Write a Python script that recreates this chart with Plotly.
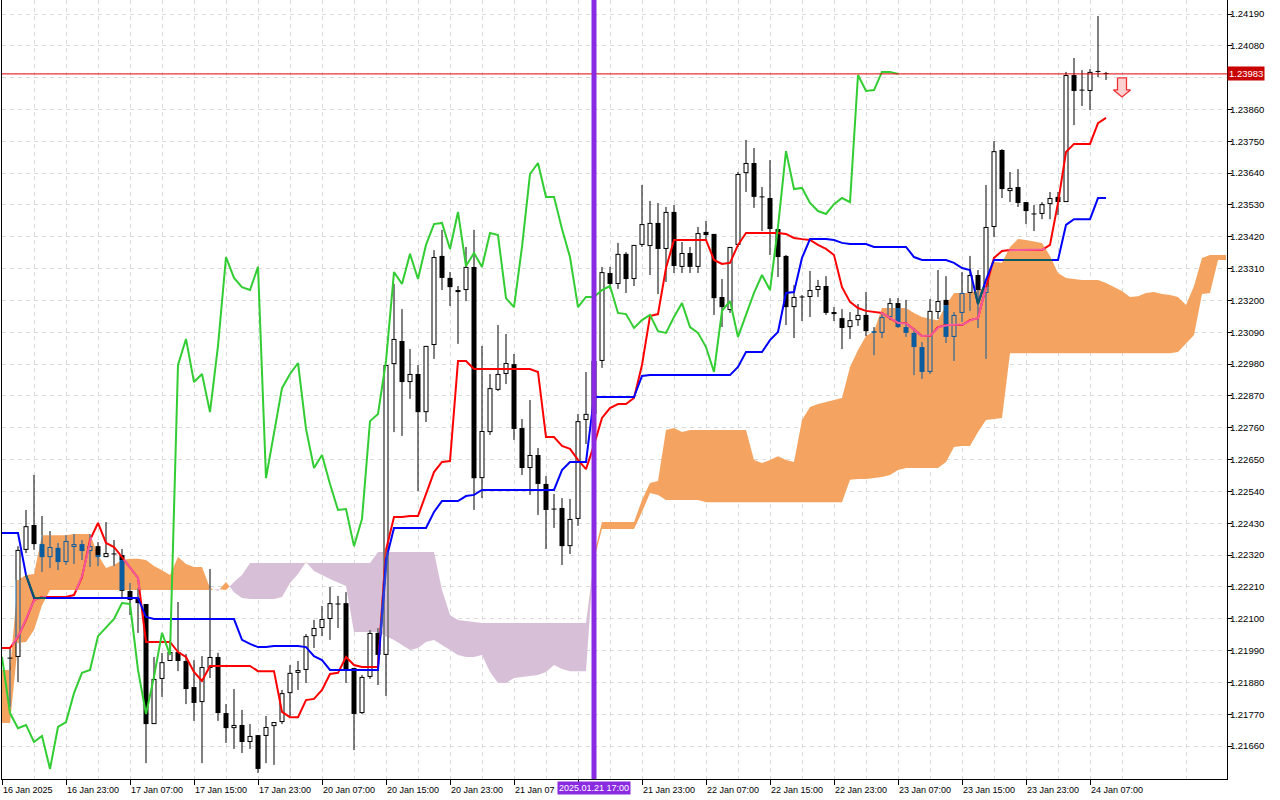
import numpy as np
import plotly.graph_objects as go

# H1 candles, bar 0 = 16 Jan 2025 16:00
opens = [
    1.21964, 1.21968, 1.22338, 1.22424, 1.22358, 1.22313, 1.22345, 1.22296, 1.22348, 1.22358,
    1.22334, 1.22351, 1.22313, 1.22324, 1.22320, 1.22196, 1.22172, 1.22151, 1.21736, 1.21892,
    1.21954, 1.21985, 1.21954, 1.21864, 1.21812, 1.21930, 1.21968, 1.21774, 1.21722, 1.21733,
    1.21674, 1.21698, 1.21695, 1.21729, 1.21743, 1.21843, 1.21913, 1.21923, 1.22040, 1.22068,
    1.22099, 1.22151, 1.22154, 1.21930, 1.21774, 1.21899, 1.22051, 1.21975, 1.22980, 1.23060,
    1.22918, 1.22946, 1.22814, 1.23046, 1.23354, 1.23278, 1.23229, 1.23236, 1.23316, 1.22586,
    1.22745, 1.22891, 1.22946, 1.22980, 1.22759, 1.22621, 1.22666, 1.22566, 1.22479, 1.22483,
    1.22351, 1.22445, 1.22787, 1.22808, 1.22991, 1.23295, 1.23257, 1.23361, 1.23274, 1.23392,
    1.23388, 1.23468, 1.23378, 1.23506, 1.23316, 1.23364, 1.23316, 1.23437, 1.23430, 1.23212,
    1.23167, 1.23392, 1.23640, 1.23675, 1.23558, 1.23554, 1.23447, 1.23354, 1.23177, 1.23212,
    1.23212, 1.23236, 1.23250, 1.23160, 1.23139, 1.23108, 1.23132, 1.23150, 1.23094, 1.23088,
    1.23143, 1.23191, 1.23108, 1.23088, 1.23039, 1.22953, 1.23160, 1.23202, 1.23074, 1.23157,
    1.23226, 1.23288, 1.23226, 1.23454, 1.23720, 1.23578, 1.23592, 1.23540, 1.23499, 1.23499,
    1.23533, 1.23558, 1.23540, 1.23979, 1.23927, 1.23924, 1.23993, 1.23986]
highs = [
    1.22002, 1.22351, 1.22476, 1.22597, 1.22455, 1.22403, 1.22362, 1.22389, 1.22393, 1.22372,
    1.22393, 1.22365, 1.22434, 1.22372, 1.22341, 1.22224, 1.22206, 1.22151, 1.21968, 1.21982,
    1.22027, 1.22158, 1.21978, 1.21957, 1.21971, 1.22272, 1.21982, 1.21805, 1.21857, 1.21785,
    1.21736, 1.21698, 1.21764, 1.21743, 1.21854, 1.21940, 1.21954, 1.22047, 1.22096, 1.22144,
    1.22210, 1.22179, 1.22192, 1.21930, 1.21906, 1.22061, 1.22068, 1.22977, 1.23257, 1.23170,
    1.23032, 1.22977, 1.23043, 1.23374, 1.23444, 1.23298, 1.23250, 1.23385, 1.23444, 1.23043,
    1.22946, 1.23115, 1.23084, 1.23015, 1.22790, 1.22856, 1.22690, 1.22593, 1.22531, 1.22517,
    1.22514, 1.22808, 1.22953, 1.23115, 1.23316, 1.23316, 1.23399, 1.23367, 1.23392, 1.23599,
    1.23544, 1.23537, 1.23523, 1.23530, 1.23402, 1.23385, 1.23454, 1.23475, 1.23430, 1.23274,
    1.23385, 1.23644, 1.23755, 1.23727, 1.23592, 1.23685, 1.23447, 1.23357, 1.23253, 1.23219,
    1.23302, 1.23271, 1.23284, 1.23177, 1.23170, 1.23160, 1.23188, 1.23229, 1.23108, 1.23157,
    1.23208, 1.23208, 1.23202, 1.23105, 1.23056, 1.23205, 1.23305, 1.23284, 1.23160, 1.23298,
    1.23354, 1.23305, 1.23599, 1.23751, 1.23723, 1.23644, 1.23654, 1.23540, 1.23530, 1.23540,
    1.23575, 1.23575, 1.23990, 1.24038, 1.23996, 1.24000, 1.24183, 1.23990]
lows = [
    1.21795, 1.21881, 1.22327, 1.22338, 1.22262, 1.22275, 1.22268, 1.22286, 1.22289, 1.22303,
    1.22279, 1.22282, 1.22313, 1.22282, 1.22175, 1.22113, 1.22051, 1.21601, 1.21736, 1.21830,
    1.21954, 1.21919, 1.21805, 1.21747, 1.21601, 1.21895, 1.21747, 1.21671, 1.21650, 1.21636,
    1.21650, 1.21567, 1.21601, 1.21595, 1.21736, 1.21764, 1.21854, 1.21878, 1.21999, 1.22040,
    1.22027, 1.22068, 1.21878, 1.21646, 1.21771, 1.21892, 1.21871, 1.21833, 1.22745, 1.22732,
    1.22860, 1.22541, 1.22780, 1.22998, 1.23236, 1.23181, 1.23050, 1.23198, 1.22476, 1.22517,
    1.22735, 1.22887, 1.22911, 1.22718, 1.22597, 1.22528, 1.22459, 1.22341, 1.22414, 1.22286,
    1.22324, 1.22421, 1.22704, 1.22794, 1.22967, 1.23240, 1.23240, 1.23226, 1.23250, 1.23385,
    1.23288, 1.23222, 1.23264, 1.23295, 1.23295, 1.23295, 1.23295, 1.23409, 1.23150, 1.23108,
    1.23157, 1.23385, 1.23575, 1.23520, 1.23440, 1.23357, 1.23281, 1.23115, 1.23070, 1.23129,
    1.23143, 1.23212, 1.23150, 1.23129, 1.23032, 1.23067, 1.23112, 1.23077, 1.23011, 1.23070,
    1.23132, 1.23105, 1.23074, 1.22942, 1.22929, 1.22946, 1.23136, 1.23053, 1.22991, 1.23126,
    1.23164, 1.23105, 1.22998, 1.23419, 1.23554, 1.23540, 1.23523, 1.23464, 1.23440, 1.23481,
    1.23481, 1.23495, 1.23540, 1.23806, 1.23872, 1.23858, 1.23972, 1.23962]
closes = [
    1.21964, 1.22338, 1.22420, 1.22358, 1.22313, 1.22348, 1.22296, 1.22369, 1.22358, 1.22334,
    1.22351, 1.22313, 1.22327, 1.22324, 1.22196, 1.22165, 1.22154, 1.21736, 1.21892, 1.21950,
    1.21985, 1.21954, 1.21857, 1.21809, 1.21933, 1.21968, 1.21774, 1.21722, 1.21733, 1.21674,
    1.21695, 1.21581, 1.21726, 1.21743, 1.21843, 1.21913, 1.21923, 1.22040, 1.22068, 1.22099,
    1.22154, 1.22151, 1.21923, 1.21771, 1.21899, 1.22051, 1.21975, 1.22977, 1.23067, 1.22918,
    1.22946, 1.22814, 1.23043, 1.23350, 1.23278, 1.23246, 1.23236, 1.23316, 1.22586, 1.22749,
    1.22897, 1.22946, 1.22984, 1.22756, 1.22621, 1.22666, 1.22566, 1.22476, 1.22479, 1.22351,
    1.22445, 1.22783, 1.22808, 1.22991, 1.23298, 1.23257, 1.23361, 1.23274, 1.23392, 1.23464,
    1.23468, 1.23378, 1.23506, 1.23319, 1.23364, 1.23316, 1.23433, 1.23426, 1.23208, 1.23177,
    1.23385, 1.23637, 1.23675, 1.23558, 1.23558, 1.23447, 1.23350, 1.23177, 1.23212, 1.23212,
    1.23236, 1.23250, 1.23157, 1.23153, 1.23105, 1.23132, 1.23150, 1.23094, 1.23088, 1.23143,
    1.23191, 1.23108, 1.23088, 1.23039, 1.22953, 1.23164, 1.23198, 1.23074, 1.23150, 1.23226,
    1.23288, 1.23236, 1.23454, 1.23716, 1.23585, 1.23589, 1.23537, 1.23509, 1.23499, 1.23533,
    1.23554, 1.23540, 1.23979, 1.23924, 1.23927, 1.23990, 1.23990, 1.23983]

# Tenkan-sen and Kijun-sen as drawn, first value one bar left of candle 0
tenkan = [
    1.21999, 1.21999, 1.22037, 1.22096, 1.22165, 1.22175, 1.22175, 1.22175, 1.22175, 1.22182,
    1.22244, 1.22372, 1.22431, 1.22362, 1.22348, 1.22313, 1.22279, 1.22241, 1.22020, 1.22020,
    1.22020, 1.22020, 1.21985, 1.21968, 1.21916, 1.21885, 1.21937, 1.21937, 1.21937, 1.21937,
    1.21937, 1.21937, 1.21919, 1.21919, 1.21919, 1.21778, 1.21760, 1.21760, 1.21819, 1.21823,
    1.21854, 1.21909, 1.21913, 1.21968, 1.21940, 1.21933, 1.21933, 1.21933, 1.22338, 1.22452,
    1.22452, 1.22455, 1.22455, 1.22528, 1.22607, 1.22642, 1.22645, 1.22991, 1.22991, 1.22963,
    1.22963, 1.22963, 1.22963, 1.22963, 1.22963, 1.22963, 1.22963, 1.22953, 1.22728, 1.22728,
    1.22697, 1.22687, 1.22649, 1.22617, 1.22700, 1.22794, 1.22828, 1.22842, 1.22842, 1.22863,
    1.22977, 1.23146, 1.23153, 1.23312, 1.23409, 1.23409, 1.23409, 1.23409, 1.23409, 1.23340,
    1.23326, 1.23330, 1.23392, 1.23433, 1.23433, 1.23433, 1.23433, 1.23433, 1.23430, 1.23416,
    1.23412, 1.23409, 1.23392, 1.23378, 1.23357, 1.23246, 1.23195, 1.23174, 1.23164, 1.23160,
    1.23157, 1.23139, 1.23122, 1.23122, 1.23098, 1.23077, 1.23077, 1.23108, 1.23115, 1.23115,
    1.23115, 1.23132, 1.23139, 1.23246, 1.23347, 1.23371, 1.23374, 1.23374, 1.23374, 1.23374,
    1.23374, 1.23392, 1.23537, 1.23713, 1.23741, 1.23741, 1.23741, 1.23813, 1.23831]
kijun = [
    1.22396, 1.22396, 1.22396, 1.22251, 1.22172, 1.22172, 1.22172, 1.22172, 1.22172, 1.22172,
    1.22172, 1.22172, 1.22172, 1.22172, 1.22172, 1.22172, 1.22172, 1.22172, 1.22106, 1.22099,
    1.22099, 1.22099, 1.22099, 1.22099, 1.22099, 1.22099, 1.22099, 1.22099, 1.22099, 1.22099,
    1.22027, 1.22013, 1.22002, 1.22002, 1.22006, 1.22006, 1.22006, 1.22006, 1.22002, 1.21971,
    1.21957, 1.21923, 1.21923, 1.21923, 1.21923, 1.21923, 1.21923, 1.21923, 1.22303, 1.22414,
    1.22414, 1.22414, 1.22414, 1.22414, 1.22469, 1.22507, 1.22507, 1.22507, 1.22524, 1.22528,
    1.22545, 1.22545, 1.22545, 1.22545, 1.22545, 1.22545, 1.22545, 1.22545, 1.22545, 1.22545,
    1.22614, 1.22642, 1.22642, 1.22642, 1.22866, 1.22866, 1.22866, 1.22866, 1.22866, 1.22866,
    1.22939, 1.22942, 1.22942, 1.22942, 1.22942, 1.22942, 1.22942, 1.22942, 1.22942, 1.22942,
    1.22942, 1.22942, 1.22970, 1.23022, 1.23022, 1.23022, 1.23063, 1.23091, 1.23226, 1.23229,
    1.23347, 1.23412, 1.23412, 1.23412, 1.23409, 1.23399, 1.23395, 1.23395, 1.23395, 1.23385,
    1.23385, 1.23385, 1.23385, 1.23385, 1.23350, 1.23340, 1.23340, 1.23340, 1.23340, 1.23330,
    1.23312, 1.23305, 1.23188, 1.23271, 1.23340, 1.23340, 1.23340, 1.23340, 1.23340, 1.23340,
    1.23340, 1.23340, 1.23340, 1.23461, 1.23481, 1.23481, 1.23481, 1.23554, 1.23554]

# Senkou span A / B, first value one bar left of candle 0, ending 15 bars past the last candle
span_a = [
    1.21923, 1.21923, 1.22234, 1.22251, 1.22255, 1.22389, 1.22389, 1.22389, 1.22389, 1.22393,
    1.22393, 1.22393, 1.22320, 1.22275, 1.22286, 1.22303, 1.22307, 1.22307, 1.22303, 1.22282,
    1.22268, 1.22251, 1.22313, 1.22289, 1.22279, 1.22279, 1.22206, 1.22196, 1.22227, 1.22192,
    1.22172, 1.22168, 1.22168, 1.22168, 1.22168, 1.22175, 1.22224, 1.22255, 1.22296, 1.22265,
    1.22251, 1.22237, 1.22224, 1.22213, 1.22054, 1.22054, 1.22054, 1.22054, 1.22040, 1.22027,
    1.22009, 1.21992, 1.21999, 1.22020, 1.22027, 1.22009, 1.21992, 1.21975, 1.21968, 1.21968,
    1.21975, 1.21916, 1.21878, 1.21878, 1.21895, 1.21899, 1.21902, 1.21906, 1.21916, 1.21940,
    1.21926, 1.21919, 1.21919, 1.21919, 1.22320, 1.22434, 1.22434, 1.22434, 1.22434, 1.22434,
    1.22510, 1.22569, 1.22576, 1.22752, 1.22759, 1.22745, 1.22752, 1.22752, 1.22752, 1.22752,
    1.22752, 1.22752, 1.22752, 1.22752, 1.22649, 1.22638, 1.22649, 1.22662, 1.22649, 1.22642,
    1.22787, 1.22832, 1.22842, 1.22849, 1.22856, 1.22863, 1.22970, 1.23029, 1.23077, 1.23094,
    1.23174, 1.23174, 1.23174, 1.23174, 1.23157, 1.23143, 1.23136, 1.23132, 1.23184, 1.23226,
    1.23226, 1.23226, 1.23236, 1.23246, 1.23333, 1.23330, 1.23385, 1.23412, 1.23409, 1.23405,
    1.23399, 1.23354, 1.23295, 1.23278, 1.23274, 1.23271, 1.23271, 1.23271, 1.23260, 1.23246,
    1.23233, 1.23212, 1.23215, 1.23226, 1.23229, 1.23222, 1.23219, 1.23212, 1.23184, 1.23250,
    1.23347, 1.23357, 1.23357, 1.23357]
span_b = [
    1.21740, 1.21740, 1.22016, 1.22020, 1.22061, 1.22147, 1.22199, 1.22199, 1.22199, 1.22199,
    1.22199, 1.22199, 1.22199, 1.22199, 1.22199, 1.22199, 1.22199, 1.22199, 1.22199, 1.22199,
    1.22199, 1.22199, 1.22199, 1.22199, 1.22199, 1.22199, 1.22199, 1.22203, 1.22199, 1.22227,
    1.22251, 1.22293, 1.22293, 1.22293, 1.22293, 1.22293, 1.22293, 1.22293, 1.22293, 1.22293,
    1.22293, 1.22293, 1.22293, 1.22293, 1.22293, 1.22293, 1.22293, 1.22331, 1.22331, 1.22331,
    1.22331, 1.22331, 1.22331, 1.22331, 1.22331, 1.22199, 1.22113, 1.22096, 1.22092, 1.22089,
    1.22085, 1.22085, 1.22085, 1.22085, 1.22085, 1.22085, 1.22085, 1.22085, 1.22085, 1.22085,
    1.22085, 1.22085, 1.22085, 1.22085, 1.22303, 1.22410, 1.22410, 1.22410, 1.22410, 1.22410,
    1.22469, 1.22535, 1.22528, 1.22510, 1.22510, 1.22510, 1.22510, 1.22510, 1.22503, 1.22503,
    1.22503, 1.22503, 1.22503, 1.22503, 1.22503, 1.22503, 1.22503, 1.22503, 1.22503, 1.22503,
    1.22503, 1.22503, 1.22503, 1.22503, 1.22503, 1.22503, 1.22580, 1.22583, 1.22583, 1.22586,
    1.22590, 1.22597, 1.22614, 1.22621, 1.22621, 1.22621, 1.22621, 1.22621, 1.22642, 1.22694,
    1.22697, 1.22697, 1.22745, 1.22787, 1.22790, 1.22794, 1.23018, 1.23018, 1.23018, 1.23018,
    1.23018, 1.23018, 1.23018, 1.23018, 1.23018, 1.23018, 1.23018, 1.23018, 1.23018, 1.23018,
    1.23018, 1.23018, 1.23018, 1.23018, 1.23018, 1.23018, 1.23018, 1.23022, 1.23053, 1.23081,
    1.23222, 1.23226, 1.23340, 1.23340]

# time axis labels every 8 bars; "21 Jan 07" is cut by the marker box, 21 Jan 15:00 is hidden under it
date_labels = ["16 Jan 2025", "16 Jan 23:00", "17 Jan 07:00", "17 Jan 15:00", "17 Jan 23:00",
               "20 Jan 07:00", "20 Jan 15:00", "20 Jan 23:00", "21 Jan 07", "",
               "21 Jan 23:00", "22 Jan 07:00", "22 Jan 15:00", "22 Jan 23:00", "23 Jan 07:00",
               "23 Jan 15:00", "23 Jan 23:00", "24 Jan 07:00"]
marker_bar = 73                 # vertical line, 21 Jan 17:00
marker_text = "2025.01.21 17:00"
signal_bar = 139                # sell arrow
chikou_shift = 26

ORANGE = (244, 164, 96)   # sandybrown, span A above B
THISTLE = (216, 191, 216)  # thistle, span B above A
BLACK, WHITE = (0, 0, 0), (255, 255, 255)
RED, BLUE, LIME = (255, 0, 0), (0, 0, 255), (50, 205, 50)

y_lo, y_hi = 1.215462, 1.242384
x_lo, x_hi = -1, 152.125
plot_h = 779
px = (y_hi - y_lo) / plot_h     # price per pixel
bar_px = 1225 / (x_hi - x_lo)   # pixels per bar


def hexc(rgb):
    return "#%02X%02X%02X" % tuple(rgb)


def xor_on(rgb, cloud):
    # the cloud is painted in xor mode, so whatever lies under it changes colour
    return hexc([c ^ (255 - k) for c, k in zip(rgb, cloud)])


CX = np.arange(-1, -1 + len(span_a))
SA, SB = np.array(span_a), np.array(span_b)


def cloud_kind(x, y):
    a = np.interp(x, CX, SA)
    b = np.interp(x, CX, SB)
    if a > b and b < y < a:
        return ORANGE
    if b > a and a < y < b:
        return THISTLE
    return None


def vsplit(x, y0, y1):
    a = float(np.interp(x, CX, SA))
    b = float(np.interp(x, CX, SB))
    cuts = sorted({y0, y1} | {v for v in (a, b) if y0 < v < y1})
    return [(p, q, cloud_kind(x, (p + q) / 2)) for p, q in zip(cuts[:-1], cuts[1:])]


fig = go.Figure()

# ---- cloud ----
pts = []
for i in range(len(CX)):
    pts.append((CX[i], span_a[i], span_b[i]))
    if i + 1 < len(CX):
        d0 = span_a[i] - span_b[i]
        d1 = span_a[i + 1] - span_b[i + 1]
        if d0 * d1 < 0:
            t = d0 / (d0 - d1)
            yc = span_a[i] + (span_a[i + 1] - span_a[i]) * t
            pts.append((CX[i] + t, yc, yc))
runs, cur, sign = [], [], 0
for p in pts:
    d = p[1] - p[2]
    s = (d > 0) - (d < 0)
    if s and sign and s != sign:
        runs.append((sign, cur))
        cur = [cur[-1]]
    if s:
        sign = s
    cur.append(p)
runs.append((sign, cur))
for sgn, run in runs:
    xs = [p[0] for p in run]
    up = [max(p[1], p[2]) for p in run]
    dn = [min(p[1], p[2]) for p in run]
    fig.add_trace(go.Scatter(x=xs + xs[::-1], y=up + dn[::-1], fill="toself", mode="lines",
                             line=dict(width=0), fillcolor=hexc(ORANGE if sgn > 0 else THISTLE),
                             hoverinfo="skip", showlegend=False))

# ---- candles ----
wick, outer, inner = {}, {}, {}


def put(store, color, x0, y0, x1, y1):
    xs, ys = store.setdefault(color, ([], []))
    xs += [x0, x1, None]
    ys += [y0, y1, None]


for i, (o, h, l, c) in enumerate(zip(opens, highs, lows, closes)):
    for p, q, k in vsplit(i, l, h):
        put(wick, hexc(BLACK) if k is None else xor_on(BLACK, k), i, p, i, q)
    top, bot = max(o, c), min(o, c)
    if top - bot < px:
        mid = (top + bot) / 2
        top, bot = mid + px / 2, mid - px / 2
    for p, q, k in vsplit(i, bot, top):
        put(outer, hexc(BLACK) if k is None else xor_on(BLACK, k), i, p, i, q)
    if c > o and top - bot > 2.5 * px:
        for p, q, k in vsplit(i, bot + px, top - px):
            put(inner, hexc(WHITE) if k is None else hexc(k), i, p, i, q)

for store, w in ((wick, 1), (outer, 5), (inner, 3)):
    for color, (xs, ys) in store.items():
        fig.add_trace(go.Scatter(x=xs, y=ys, mode="lines", line=dict(color=color, width=w),
                                 hoverinfo="skip", showlegend=False))


# ---- Ichimoku lines ----
def add_line(xs, ys, rgb, width=2, under_cloud=True, n=16):
    fig.add_trace(go.Scatter(x=list(xs), y=list(ys), mode="lines",
                             line=dict(color=hexc(rgb), width=width),
                             hoverinfo="skip", showlegend=False))
    if not under_cloud:
        return
    over, last = {}, None
    for k in range(len(xs) - 1):
        x0, x1, y0, y1 = xs[k], xs[k + 1], ys[k], ys[k + 1]
        for s in range(n):
            t0, t1 = s / n, (s + 1) / n
            tm = (t0 + t1) / 2
            kind = cloud_kind(x0 + (x1 - x0) * tm, y0 + (y1 - y0) * tm)
            if kind is None:
                last = None
                continue
            col = xor_on(rgb, kind)
            X, Y = over.setdefault(col, ([], []))
            if last != col:
                if X:
                    X.append(None)
                    Y.append(None)
                X.append(x0 + (x1 - x0) * t0)
                Y.append(y0 + (y1 - y0) * t0)
            X.append(x0 + (x1 - x0) * t1)
            Y.append(y0 + (y1 - y0) * t1)
            last = col
    for col, (X, Y) in over.items():
        fig.add_trace(go.Scatter(x=X, y=Y, mode="lines", line=dict(color=col, width=width),
                                 hoverinfo="skip", showlegend=False))


line_x = list(range(-1, -1 + len(tenkan)))
add_line(line_x, tenkan, RED)
add_line(line_x, kijun, BLUE)
# Chikou span: the closes drawn 26 bars back, painted after the cloud
first = chikou_shift - 1
add_line(list(range(-1, len(closes) - chikou_shift)), closes[first:], LIME, under_cloud=False)

# ---- sell arrow ----
ax = [signal_bar + dx / bar_px for dx in (-4.5, 4.5, 4.5, 8.5, 0, -8.5, -4.5, -4.5)]
ay = [closes[-1] - (4 + dy) * px for dy in (0, 0, 12, 12, 19, 12, 12, 0)]
fig.add_trace(go.Scatter(x=ax, y=ay, fill="toself", mode="lines", fillcolor="#FFD0D0",
                         line=dict(color="#F03030", width=1.3), hoverinfo="skip", showlegend=False))

# ---- price line, time marker ----
fig.add_shape(type="line", xref="paper", x0=0, x1=1, yref="y", y0=closes[-1], y1=closes[-1],
              line=dict(color="#E00000", width=1), layer="above")
fig.add_shape(type="line", xref="x", x0=marker_bar, x1=marker_bar, yref="paper", y0=0, y1=1,
              line=dict(color="#8A2BE2", width=5), layer="above")
fig.add_annotation(xref="paper", x=1, yref="y", y=closes[-1], xanchor="left", yanchor="middle",
                   text=f"{closes[-1]:.5f}", showarrow=False, bgcolor="#C80000",
                   font=dict(color="white", size=9.5, family="Liberation Sans"), borderpad=1)
fig.add_annotation(xref="x", x=marker_bar, yref="paper", y=0, yanchor="top", yshift=-2,
                   text=marker_text, showarrow=False, bgcolor="#8A2BE2",
                   font=dict(color="white", size=9, family="Liberation Sans"), borderpad=1)

y_ticks = np.round(np.arange(1.21660, 1.24191, 0.0011), 5)
# the tick under the current-price box is covered in the original
y_text = ["" if abs(v - closes[-1]) < 0.0003 else f"{v:.5f}" for v in y_ticks]
grid = dict(showgrid=True, gridcolor="#DADADA", gridwidth=1, griddash="4px,4px")

fig.update_layout(
    width=1280, height=800,
    margin=dict(l=2, r=53, t=0, b=21),
    paper_bgcolor="white", plot_bgcolor="white",
    showlegend=False,
    font=dict(family="Liberation Sans, Arial, sans-serif", size=9.5, color="black"),
    xaxis=dict(range=[x_lo, x_hi], tickvals=list(range(-1, 137, 8)), ticktext=date_labels,
               ticks="outside", ticklen=5, tickcolor="black", ticklabelposition="outside right",
               ticklabelstandoff=2, tickfont=dict(size=9), showline=True, linecolor="black",
               linewidth=1, zeroline=False,
               minor=dict(tickvals=list(range(3, 153, 8)), ticks="", **grid), **grid),
    yaxis=dict(range=[y_lo, y_hi], side="right", tickvals=list(y_ticks), ticktext=y_text,
               ticks="outside", ticklen=4, tickcolor="black", ticklabelstandoff=-4,
               showline=True, mirror=True, linecolor="black", linewidth=1, zeroline=False,
               **grid),
)

fig.write_html("out.html", config={"displayModeBar": False},
               post_script="document.body.style.margin='0';")
